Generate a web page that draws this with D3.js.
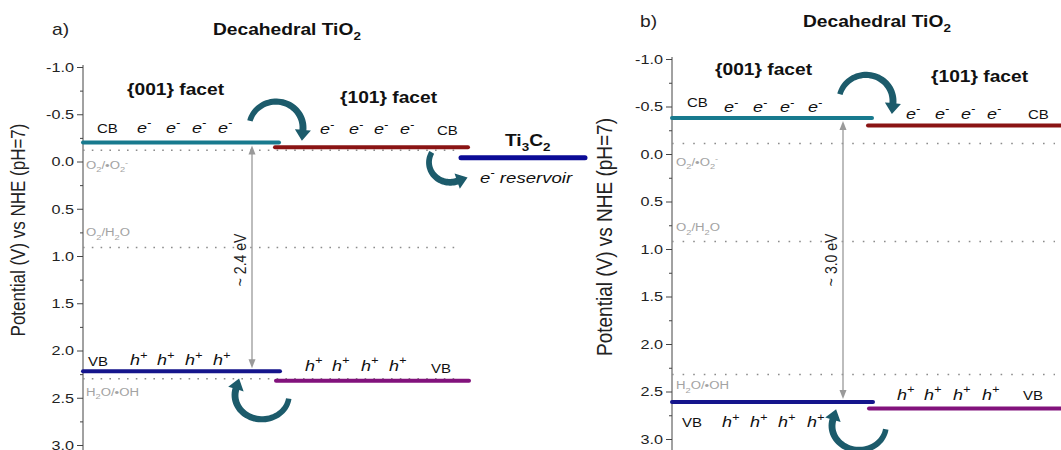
<!DOCTYPE html>
<html>
<head>
<meta charset="utf-8">
<script src="https://cdn.jsdelivr.net/npm/d3@7"></script>
<style>
  html, body { margin: 0; padding: 0; background: #fff; }
  svg { display: block; font-family: "Liberation Sans", Arial, sans-serif; }
</style>
</head>
<body>
<svg id="chart" width="1061" height="450"></svg>
<script>
// ---------------- data ----------------
const yTicks = [-1.0, -0.5, 0.0, 0.5, 1.0, 1.5, 2.0, 2.5, 3.0];
const minorTicks = [-0.75, -0.25, 0.25, 0.75, 1.25, 1.75, 2.25, 2.75];
const axisTitle = "Potential (V) vs NHE (pH=7)";
const panelLabels = ["a)", "b)"];
const panelTitle = "Decahedral TiO_{2}";
const facetNames = ["{001} facet", "{101} facet"];
const materialA = "Ti_{3}C_{2}";
const reservoirLabel = "e^{-} reservoir";
const redoxLabels = ["O_{2}/•O_{2}^{-}", "O_{2}/H_{2}O", "H_{2}O/•OH"];
const redoxA = [-0.12, 0.91, 2.30];
const redoxB = [-0.11, 0.92, 2.32];
const cbA = [-0.20, -0.15, -0.04];   // {001}, {101}, Ti3C2
const vbA = [2.22, 2.32];            // {001}, {101}
const cbB = [-0.38, -0.30];
const vbB = [2.61, 2.68];
const gapLabels = ["~ 2.4 eV", "~ 3.0 eV"];
const bandLabels = ["CB", "VB"];
const carrierLabels = ["e^{-}", "h^{+}"];

// ---------------- helpers ----------------
const SX = 1.2;
const svg = d3.select("#chart");

function addText(parent, x, y, markup, o = {}) {
  const size = o.size || 14;
  let tr = `translate(${x},${y}) scale(${SX},1)`;
  if (o.rotate) tr += ` rotate(${o.rotate})`;
  const t = parent.append("text")
    .attr("transform", tr)
    .attr("font-size", size)
    .attr("font-weight", o.weight || "normal")
    .attr("font-style", o.style || "normal")
    .attr("fill", o.fill || "#111")
    .attr("text-anchor", o.anchor || "start");
  const parts = markup.match(/(_\{[^}]*\}|\^\{[^}]*\}|[^_^]+)/g);
  let shift = 0;
  parts.forEach(p => {
    if (p.startsWith("_{")) {
      const s = size * 0.3;
      t.append("tspan").attr("font-size", size * 0.7).attr("dy", s - shift).text(p.slice(2, -1));
      shift = s;
    } else if (p.startsWith("^{")) {
      const s = -size * 0.42;
      t.append("tspan").attr("font-size", size * 0.7).attr("dy", s - shift).text(p.slice(2, -1));
      shift = s;
    } else {
      t.append("tspan").attr("dy", -shift).text(p);
      shift = 0;
    }
  });
  return t;
}

function curvedArrow(parent, cx, cy, rx, ry, a0, a1, w0, w1, color) {
  const N = 40, rad = Math.PI / 180;
  const pts = [], nrm = [], ws = [];
  for (let i = 0; i <= N; i++) {
    const th = (a0 + (a1 - a0) * i / N) * rad;
    pts.push([cx + rx * Math.cos(th), cy - ry * Math.sin(th)]);
    const sgn = a1 > a0 ? 1 : -1;
    const d = [-rx * Math.sin(th) * sgn, -ry * Math.cos(th) * sgn];
    const L = Math.hypot(d[0], d[1]);
    nrm.push([-d[1] / L, d[0] / L]);
    ws.push(w0 + (w1 - w0) * i / N);
  }
  const thE = a1 * rad, sgn = a1 > a0 ? 1 : -1;
  let dE = [-rx * Math.sin(thE) * sgn, -ry * Math.cos(thE) * sgn];
  const LE = Math.hypot(dE[0], dE[1]); dE = [dE[0] / LE, dE[1] / LE];
  const nE = [-dE[1], dE[0]];
  const pE = pts[N];
  const H = w1 * 1.15, HL = 11;
  const outer = pts.map((p, i) => [p[0] + nrm[i][0] * ws[i] / 2, p[1] + nrm[i][1] * ws[i] / 2]);
  const inner = pts.map((p, i) => [p[0] - nrm[i][0] * ws[i] / 2, p[1] - nrm[i][1] * ws[i] / 2]);
  const poly = outer.concat([
    [pE[0] + nE[0] * H, pE[1] + nE[1] * H],
    [pE[0] + dE[0] * HL, pE[1] + dE[1] * HL],
    [pE[0] - nE[0] * H, pE[1] - nE[1] * H]
  ]).concat(inner.reverse());
  parent.append("path").attr("d", "M" + poly.map(p => p.join(",")).join("L") + "Z").attr("fill", color);
}

const C = {
  teal: "#187a8e", red: "#8a1414", navy: "#15158c", ti: "#0b0b96",
  purple: "#82127c", arrow: "#1c5b6b", dot: "#8c8c8c", redox: "#a3a3a3", gap: "#9a9a9a"
};

function drawPanel(cfg) {
  const g = svg.append("g");
  const y = d3.scaleLinear().domain([-1, 3]).range(cfg.yRange);
  const x = d3.scaleLinear().domain([0, 500]).range([cfg.axisX, cfg.axisX + 500]);

  // axis
  const minor = d3.axisLeft(y).tickValues(minorTicks).tickSize(3).tickFormat("").tickSizeOuter(0);
  const major = d3.axisLeft(y).tickValues(yTicks).tickSize(6).tickSizeOuter(0).tickFormat(d => d.toFixed(1));
  const ga = g.append("g").attr("transform", `translate(${cfg.axisX},0)`);
  ga.append("g").call(minor).call(s => s.select(".domain").remove()).selectAll("line").attr("stroke", "#444");
  const gm = ga.append("g").call(major);
  gm.select(".domain").remove();
  gm.selectAll("line").attr("stroke", "#444");
  gm.selectAll("text").attr("font-size", 13.5).attr("fill", "#222").attr("font-family", "Liberation Sans, Arial, sans-serif")
    .attr("x", -9 / SX).attr("transform", `scale(${SX},1)`);
  ga.append("line").attr("x1", 0).attr("x2", 0).attr("y1", y(-1) - 2).attr("y2", 452).attr("stroke", "#444");

  // axis title
  addText(g, cfg.titleX, cfg.titleY, axisTitle, { size: cfg.titleSize, rotate: -90, anchor: "middle", fill: "#222" });

  // panel label + title
  addText(g, cfg.labelX, cfg.headY, cfg.label, { size: 16, fill: "#222" });
  addText(g, cfg.headX, cfg.headY, panelTitle, { size: 16, weight: "bold" });

  // redox dotted lines
  cfg.redox.forEach((v, i) => {
    g.append("line").attr("x1", x(0)).attr("x2", x(cfg.dotEnd)).attr("y1", y(v)).attr("y2", y(v))
      .attr("stroke", C.dot).attr("stroke-width", 1.5).attr("stroke-dasharray", cfg.dash);
    addText(g, x(cfg.redoxX), y(v) + cfg.redoxDy[i], redoxLabels[i], { size: 11, fill: C.redox });
  });

  // band levels
  const lev = (v, seg, color, w) => g.append("line").attr("x1", x(seg[0])).attr("x2", x(seg[1]))
    .attr("y1", y(v)).attr("y2", y(v)).attr("stroke", color).attr("stroke-width", w).attr("stroke-linecap", "round");
  lev(cfg.cb[0], cfg.seg.cb0, C.teal, 4);
  lev(cfg.cb[1], cfg.seg.cb1, C.red, 4);
  lev(cfg.vb[0], cfg.seg.vb0, C.navy, 4);
  lev(cfg.vb[1], cfg.seg.vb1, C.purple, 4);

  // gap arrow
  const gx = x(cfg.gapX), gy0 = y(cfg.cb[0]) + 3, gy1 = y(cfg.vb[0]) - 3;
  g.append("line").attr("x1", gx).attr("x2", gx).attr("y1", gy0 + 6).attr("y2", gy1 - 6).attr("stroke", C.gap).attr("stroke-width", 1.3);
  g.append("path").attr("d", `M${gx},${gy0}L${gx - 3.5},${gy0 + 9}L${gx + 3.5},${gy0 + 9}Z`).attr("fill", C.gap);
  g.append("path").attr("d", `M${gx},${gy1}L${gx - 3.5},${gy1 - 9}L${gx + 3.5},${gy1 - 9}Z`).attr("fill", C.gap);
  addText(g, gx - 6, (gy0 + gy1) / 2 + cfg.gapDy, cfg.gapLabel, { size: 14, rotate: -90, anchor: "middle", fill: "#222" });

  // facet titles
  addText(g, x(cfg.facetX[0]), cfg.facetY[0], facetNames[0], { size: 16, weight: "bold" });
  addText(g, x(cfg.facetX[1]), cfg.facetY[1], facetNames[1], { size: 16, weight: "bold" });

  // CB / VB labels and carriers
  addText(g, x(cfg.cbLab[0]), y(cfg.cb[0]) + cfg.cbLabDy[0], bandLabels[0], { size: 12.5 });
  addText(g, x(cfg.cbLab[1]), y(cfg.cb[1]) + cfg.cbLabDy[1], bandLabels[0], { size: 12.5 });
  addText(g, x(cfg.vbLab[0]), y(cfg.vb[0]) + cfg.vbLabDy[0], bandLabels[1], { size: 12.5 });
  addText(g, x(cfg.vbLab[1]), y(cfg.vb[1]) + cfg.vbLabDy[1], bandLabels[1], { size: 12.5 });
  cfg.eX[0].forEach(u => addText(g, x(u), y(cfg.cb[0]) + cfg.eDy[0], carrierLabels[0], { size: 15, style: "italic" }));
  cfg.eX[1].forEach(u => addText(g, x(u), y(cfg.cb[1]) + cfg.eDy[1], carrierLabels[0], { size: 15, style: "italic" }));
  cfg.hX[0].forEach(u => addText(g, x(u), y(cfg.vb[0]) + cfg.hDy[0], carrierLabels[1], { size: 15, style: "italic" }));
  cfg.hX[1].forEach(u => addText(g, x(u), y(cfg.vb[1]) + cfg.hDy[1], carrierLabels[1], { size: 15, style: "italic" }));

  // transfer arrows
  const cbEnd = x(cfg.seg.cb0[1]), vbEnd = x(cfg.seg.vb0[1]);
  curvedArrow(g, cbEnd + cfg.topArrow[0], y(cfg.cb[0]) + cfg.topArrow[1], 27, 26, 165, -5, 5.5, 7, C.arrow);
  curvedArrow(g, vbEnd + cfg.botArrow[0], y(cfg.vb[0]) + cfg.botArrow[1], 27, 24, -8, -195, 5.5, 7, C.arrow);

  return { g, x, y };
}

// Panel a
const A = drawPanel({
  axisX: 83, yRange: [67, 445], label: panelLabels[0], labelX: 52, headX: 213, headY: 35,
  titleX: 25, titleY: 230, titleSize: 17,
  redox: redoxA, dotEnd: 377, dash: "1.6,7.2", redoxX: 3, redoxDy: [19, -11, 17],
  cb: cbA, vb: vbA,
  seg: { cb0: [0, 196], cb1: [192, 385], vb0: [0, 197], vb1: [193, 386] },
  gapX: 169, gapLabel: gapLabels[0], gapDy: 3,
  facetX: [44, 257], facetY: [95, 103],
  cbLab: [14, 354], cbLabDy: [-10, -12], vbLab: [5, 348], vbLabDy: [-5, -8],
  eX: [[54, 83, 109, 135], [237, 266, 291, 317]], eDy: [-10, -13],
  hX: [[47, 74, 102, 130], [222, 249, 278, 306]], hDy: [-6, -10],
  topArrow: [-3, -15], botArrow: [-18, 24]
});
// Ti3C2 level (panel a)
A.g.append("line").attr("x1", A.x(378)).attr("x2", A.x(502)).attr("y1", A.y(cbA[2])).attr("y2", A.y(cbA[2]))
  .attr("stroke", C.ti).attr("stroke-width", 5).attr("stroke-linecap", "round");
addText(A.g, A.x(422), A.y(cbA[2]) - 12, materialA, { size: 16, weight: "bold" });
addText(A.g, A.x(397), A.y(cbA[2]) + 25, reservoirLabel, { size: 15.5, style: "italic" });
curvedArrow(A.g, A.x(385) - 18, A.y(cbA[1]) + 15, 21, 20, 150, 290, 5.5, 7, C.arrow);

// Panel b
drawPanel({
  axisX: 672, yRange: [59, 439], label: panelLabels[1], labelX: 640, headX: 803, headY: 27,
  titleX: 612, titleY: 237, titleSize: 19,
  redox: redoxB, dotEnd: 383, dash: "1.6,9", redoxX: 4, redoxDy: [22, -10, 15],
  cb: cbB, vb: vbB,
  seg: { cb0: [0, 200], cb1: [196, 400], vb0: [0, 201], vb1: [197, 400] },
  gapX: 171, gapLabel: gapLabels[1], gapDy: 0,
  facetX: [43, 259], facetY: [75, 82],
  cbLab: [15, 356], cbLabDy: [-11, -7], vbLab: [10, 351], vbLabDy: [25, -9],
  eX: [[52, 81, 108, 136], [234, 263, 289, 315]], eDy: [-6, -7],
  hX: [[50, 78, 106, 135], [225, 252, 281, 310]], hDy: [25, -9],
  topArrow: [-6, -17], botArrow: [-14, 24]
});
</script>
</body>
</html>
